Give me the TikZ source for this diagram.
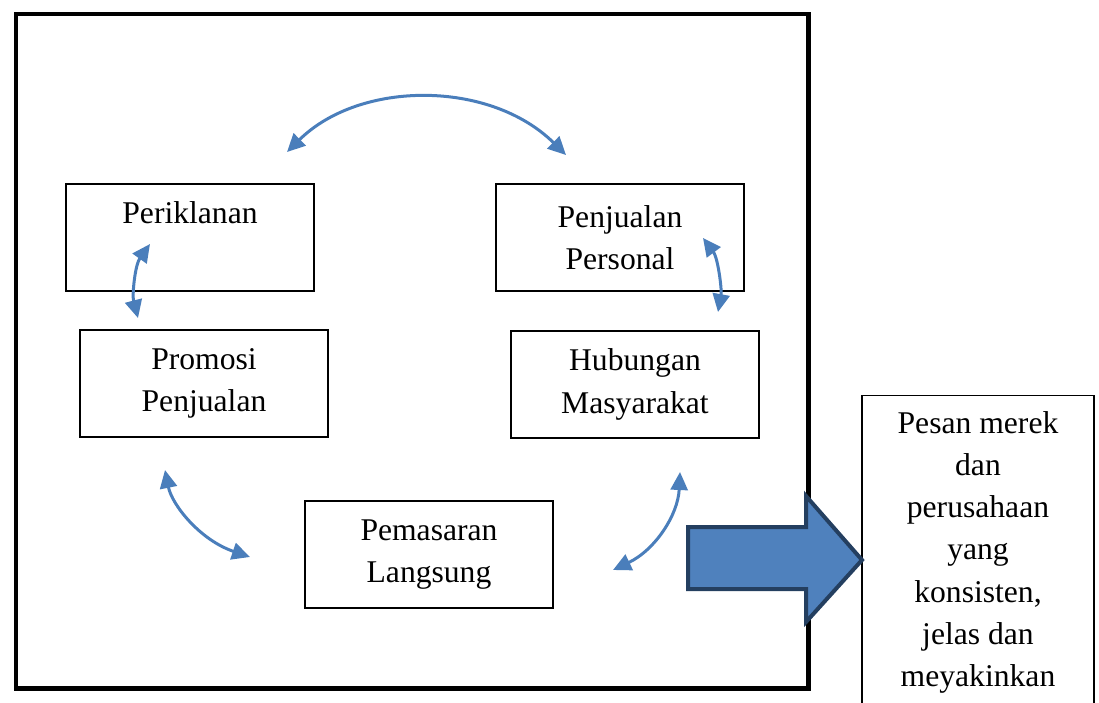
\documentclass[tikz,border=0pt]{standalone}
\usepackage{fontspec}
\setmainfont{Liberation Serif}
\usetikzlibrary{positioning,arrows.meta}
\definecolor{curveblue}{HTML}{4A7EBB}
\definecolor{bigfill}{HTML}{4F81BD}
\definecolor{bigedge}{HTML}{243F60}
\begin{document}
\begin{tikzpicture}[
  x=0.02cm, y=-0.02cm,
  >={Triangle[length=0.36cm,width=0.34cm]},
  box/.style={
    draw,
    line width=0.7pt,
    align=center,
    minimum width=4.96cm,
    minimum height=2.14cm,
    font=\fontsize{18}{24}\selectfont
  },
  msg/.style={box, anchor=north, minimum width=4.64cm, minimum height=0pt, inner ysep=9pt},
  link/.style={<->, curveblue, line width=0.06cm}
]
\useasboundingbox (0,0) rectangle (1099,703);
\clip (0,0) rectangle (1099,703);
\draw[line width=0.1cm] (16,14) rectangle (808,688);

\node[box] (iklan)   at (190,237.5) {\strut Periklanan\\[2pt]\strut};
\node[box] (jual)    at (620,237.5) {Penjualan\\Personal};
\node[box] (promosi) at (204,383.5) {Promosi\\Penjualan};
\node[box] (humas)   at (635,384.5) {Hubungan\\Masyarakat};
\node[box] (pasar)   at (429,554.5) {Pemasaran\\Langsung};
\node[msg] (pesan)   at (978,395)   {Pesan merek\\dan\\perusahaan\\yang\\konsisten,\\jelas dan\\meyakinkan};

\coordinate (topL) at (287,152);
\coordinate (topR) at (566,155);
\coordinate (leftA) at (150,244);
\coordinate (leftB) at (138,318);
\coordinate (rightA) at (703,238);
\coordinate (rightB) at (718,312);
\coordinate (lowL) at (165,470);
\coordinate (lowLb) at (250,557);
\coordinate (lowR) at (680,472);
\coordinate (lowRb) at (613,570);

\draw[link] (topL) .. controls (360,80) and (490,80) .. (topR);
\draw[link] (leftA) .. controls (135,265) and (132,295) .. (leftB);
\draw[link] (rightA) .. controls (718,258) and (722,290) .. (rightB);
\draw[link] (lowL) .. controls (172,505) and (200,540) .. (lowLb);
\draw[link] (lowR) .. controls (678,515) and (655,550) .. (lowRb);

\draw[fill=bigfill, draw=bigedge, line width=0.08cm, line join=miter]
  (688,527) -- (806,527) -- (806,496) -- (862,560) -- (806,622) -- (806,589) -- (688,589) -- cycle;
\end{tikzpicture}
\end{document}
